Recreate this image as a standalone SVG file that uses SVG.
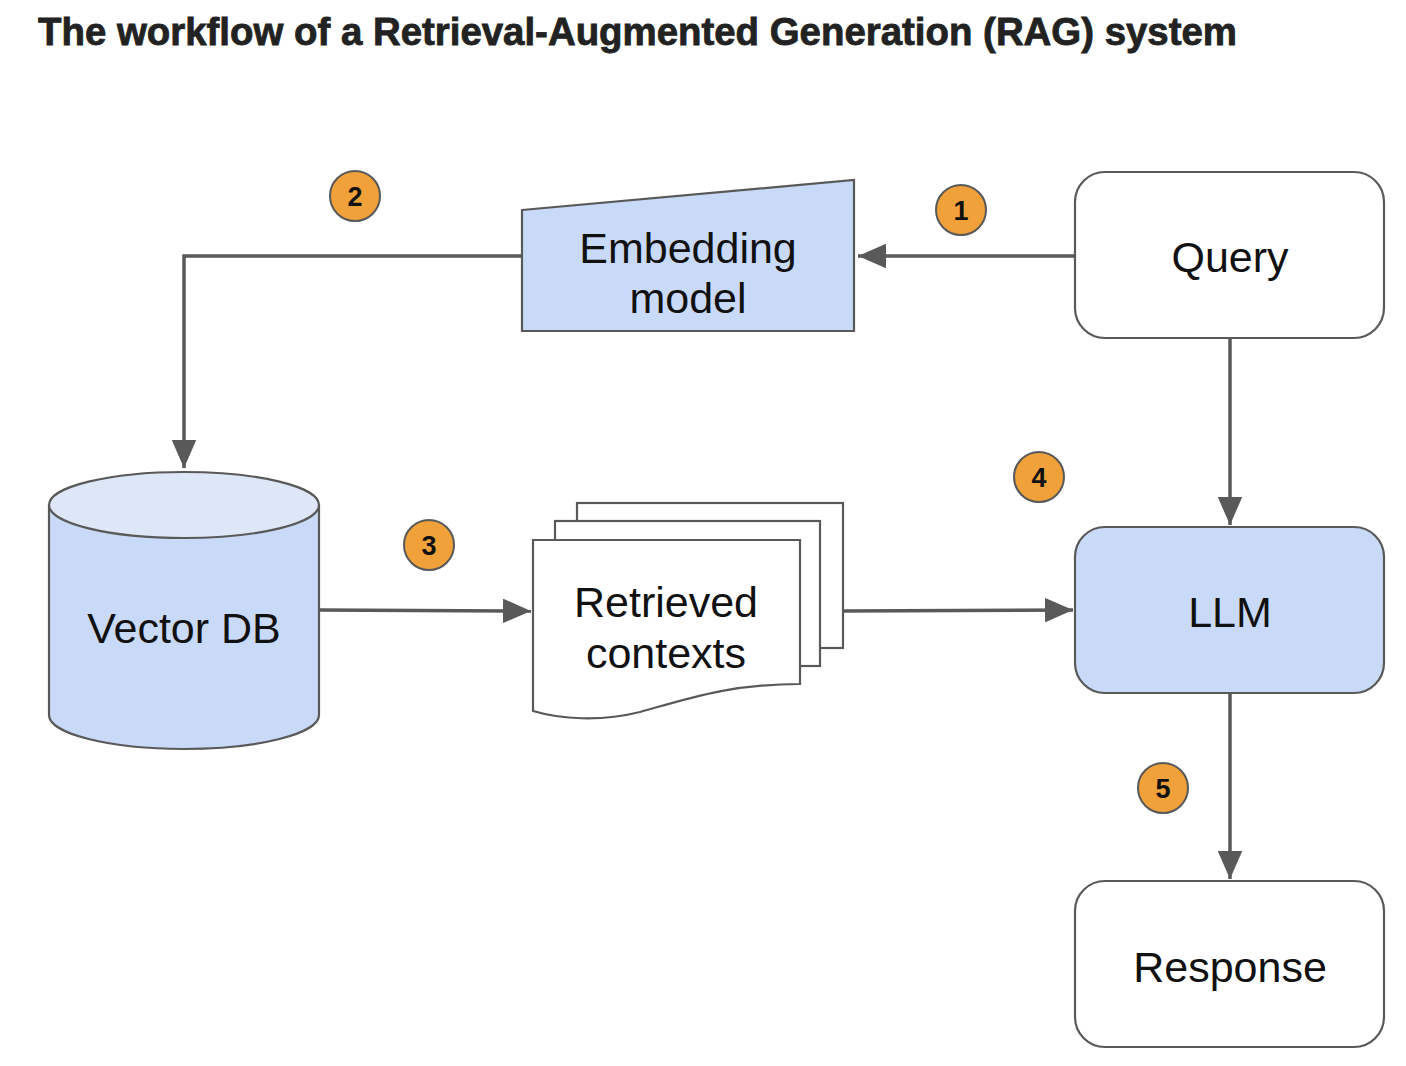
<svg xmlns="http://www.w3.org/2000/svg" width="1406" height="1066" viewBox="0 0 1406 1066">
<style>
.t{font-family:"Liberation Sans",Arial,sans-serif;font-size:43px;fill:#111;text-anchor:middle}
.s{stroke:#595959;stroke-width:2.2}
.c{fill:none;stroke:#595959;stroke-width:3.5}
.b circle{fill:#f0a13a;stroke:#595959;stroke-width:2}
.b text{font-family:"Liberation Sans",Arial,sans-serif;font-size:27px;font-weight:bold;fill:#111;text-anchor:middle}
</style>
<defs>
<marker id="ah" markerWidth="8" markerHeight="7" refX="8" refY="3.5" orient="auto" markerUnits="strokeWidth">
<path d="M0,0 L8,3.5 L0,7 Z" fill="#595959"/>
</marker>
</defs>
<rect width="1406" height="1066" fill="#fff"/>
<text x="38" y="45" font-family="'Liberation Sans',Arial,sans-serif" font-size="38" font-weight="bold" fill="#222" stroke="#222" stroke-width="0.8" textLength="1199" lengthAdjust="spacingAndGlyphs">The workflow of a Retrieval-Augmented Generation (RAG) system</text>

<g id="connectors">
<path class="c" d="M1075,256 L858,256" marker-end="url(#ah)"/>
<path class="c" d="M522,256 L184,256 L184,468" marker-end="url(#ah)"/>
<path class="c" d="M319,610 L531,611" marker-end="url(#ah)"/>
<path class="c" d="M843,611 L1073,610" marker-end="url(#ah)"/>
<path class="c" d="M1230,338 L1230,525" marker-end="url(#ah)"/>
<path class="c" d="M1230,693 L1230,879" marker-end="url(#ah)"/>
</g>

<g id="embedding">
<polygon class="s" points="522,210 854,180 854,331 522,331" fill="#c9daf8"/>
<text class="t" x="688" y="263">Embedding</text>
<text class="t" x="688" y="313">model</text>
</g>

<g id="query">
<rect class="s" x="1075" y="172" width="309" height="166" rx="30" fill="#fff"/>
<text class="t" x="1230" y="272">Query</text>
</g>

<g id="llm">
<rect class="s" x="1075" y="527" width="309" height="166" rx="30" fill="#c9daf8"/>
<text class="t" x="1230" y="627">LLM</text>
</g>

<g id="response">
<rect class="s" x="1075" y="881" width="309" height="166" rx="30" fill="#fff"/>
<text class="t" x="1230" y="982">Response</text>
</g>

<g id="vectordb">
<path class="s" d="M49,505 L49,715 A135,34 0 0 0 319,715 L319,505" fill="#c9daf8"/>
<ellipse class="s" cx="184" cy="505" rx="135" ry="33" fill="#dde7f8"/>
<text class="t" x="184" y="643">Vector DB</text>
</g>

<g id="retrieved">
<rect class="s" x="577" y="503" width="266" height="145" fill="#fff"/>
<rect class="s" x="555" y="521" width="265" height="145" fill="#fff"/>
<path class="s" d="M533,540 L800,540 L800,684 C730,684 690,698 640,712 C600,722 560,719 533,711 Z" fill="#fff"/>
<text class="t" x="666" y="617">Retrieved</text>
<text class="t" x="666" y="668">contexts</text>
</g>

<g id="badge1" class="b"><circle cx="961" cy="210" r="25"/><text x="961" y="220">1</text></g>
<g id="badge2" class="b"><circle cx="355" cy="196" r="25"/><text x="355" y="206">2</text></g>
<g id="badge3" class="b"><circle cx="429" cy="545" r="25"/><text x="429" y="555">3</text></g>
<g id="badge4" class="b"><circle cx="1039" cy="477" r="25"/><text x="1039" y="487">4</text></g>
<g id="badge5" class="b"><circle cx="1163" cy="788" r="25"/><text x="1163" y="798">5</text></g>
</svg>
